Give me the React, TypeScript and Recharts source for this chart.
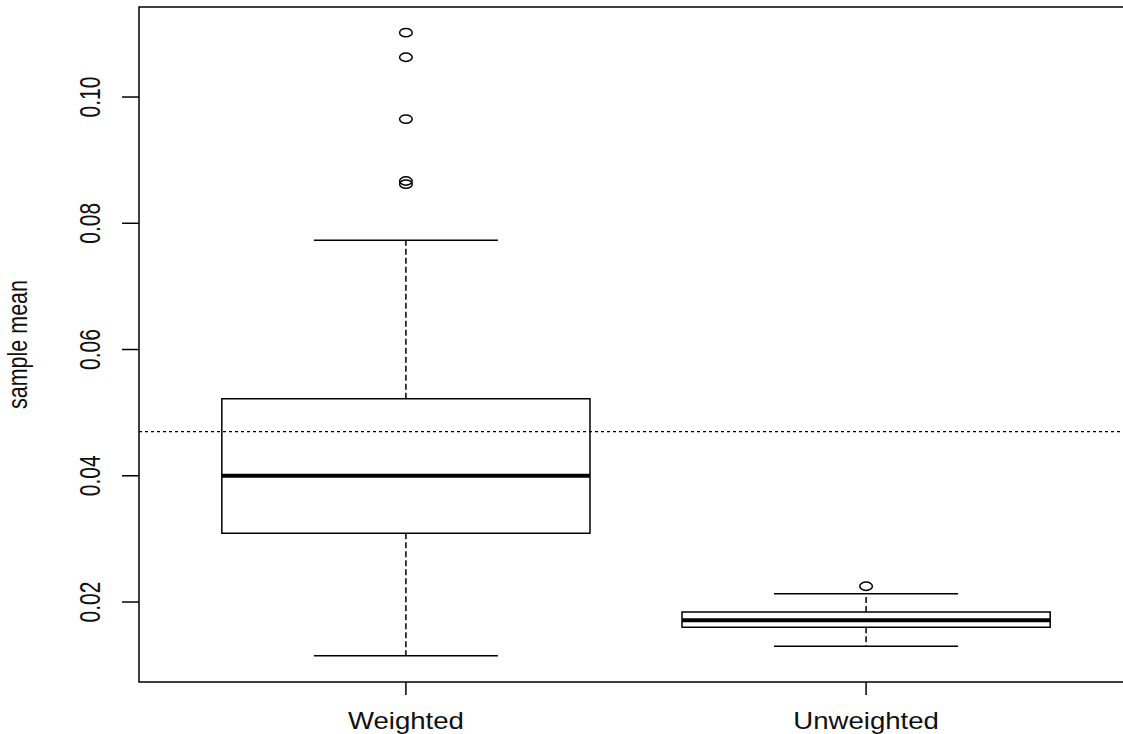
import {
  ComposedChart,
  XAxis,
  YAxis,
  Scatter,
  ReferenceArea,
  ReferenceLine,
  Label,
} from "recharts";

// Boxplot summaries
const categories = ["Weighted", "Unweighted"];
const lowerWhisker = [0.0115, 0.013];
const q1 = [0.0309, 0.016];
const median = [0.04, 0.0171];
const q3 = [0.0522, 0.0184];
const upperWhisker = [0.0773, 0.0213];
const outliers = [
  [0.1102, 0.1063, 0.0965, 0.0867, 0.0862],
  [0.0225],
];
const referenceMean = 0.047;
const yTicks = [0.02, 0.04, 0.06, 0.08, 0.1];
const yDomain = [0.00733, 0.11426];

const FONT = '"Liberation Sans", Arial, sans-serif';
const INK = "#000";
const BOX_HALF = 0.4;
const CAP_HALF = 0.2;

const outlierPoints = outliers.flatMap((vals, i) =>
  vals.map((v) => ({ x: i + 1, y: v }))
);

function YTick(props: any) {
  const { x, y, payload } = props;
  return (
    <g transform={`translate(${x},${y}) scale(1.4,1)`}>
      <text
        transform="rotate(-90)"
        textAnchor="middle"
        fontSize={21}
        fontFamily={FONT}
        fill="#111"
      >
        {payload.value.toFixed(2)}
      </text>
    </g>
  );
}

function XTick(props: any) {
  const { x, y, payload } = props;
  return (
    <g transform={`translate(${x},${y + 34}) scale(1.2,1)`}>
      <text textAnchor="middle" fontSize={23} fontFamily={FONT} fill="#111">
        {categories[payload.value - 1]}
      </text>
    </g>
  );
}

function YLabel(props: any) {
  const vb = props.viewBox;
  const cy = vb.y + vb.height / 2;
  return (
    <g transform={`translate(27,${cy}) scale(1.3,1)`}>
      <text
        transform="rotate(-90)"
        textAnchor="middle"
        fontSize={21.5}
        fontFamily={FONT}
        fill="#111"
      >
        sample mean
      </text>
    </g>
  );
}

function Outlier(props: any) {
  return (
    <ellipse
      cx={props.cx}
      cy={props.cy}
      rx={6.3}
      ry={4.2}
      fill="none"
      stroke={INK}
      strokeWidth={1.5}
    />
  );
}

export default function App() {
  return (
    <div
      style={{
        position: "fixed",
        left: 0,
        top: 0,
        width: 1123,
        height: 734,
        overflow: "hidden",
        background: "#fff",
      }}
    >
      <ComposedChart
        width={1140}
        height={734}
        margin={{ top: 7, right: 7, bottom: 0, left: 0 }}
      >
        <XAxis
          type="number"
          dataKey="x"
          domain={[0.42, 2.58]}
          ticks={[1, 2]}
          height={52}
          axisLine={false}
          tickLine={{ stroke: INK, strokeWidth: 1.5 }}
          tickSize={13}
          tickMargin={0}
          tick={<XTick />}
          allowDataOverflow
        />
        <YAxis
          type="number"
          dataKey="y"
          domain={yDomain}
          ticks={yTicks}
          width={139}
          axisLine={false}
          tickLine={{ stroke: INK, strokeWidth: 1.5 }}
          tickSize={17}
          tickMargin={22}
          tick={<YTick />}
          allowDataOverflow
        >
          <Label content={<YLabel />} />
        </YAxis>

        {/* plot frame */}
        <ReferenceArea
          x1={0.42}
          x2={2.58}
          y1={yDomain[0]}
          y2={yDomain[1]}
          fill="none"
          stroke={INK}
          strokeWidth={1.5}
          ifOverflow="extendDomain"
        />

        {categories.map((c, i) => {
          const cx = i + 1;
          return [
            <ReferenceArea
              key={c + "box"}
              x1={cx - BOX_HALF}
              x2={cx + BOX_HALF}
              y1={q1[i]}
              y2={q3[i]}
              fill="none"
              stroke={INK}
              strokeWidth={1.5}
            />,
            <ReferenceLine
              key={c + "upw"}
              segment={[
                { x: cx, y: q3[i] },
                { x: cx, y: upperWhisker[i] },
              ]}
              stroke={INK}
              strokeWidth={1.5}
              strokeDasharray="6 3"
            />,
            <ReferenceLine
              key={c + "low"}
              segment={[
                { x: cx, y: q1[i] },
                { x: cx, y: lowerWhisker[i] },
              ]}
              stroke={INK}
              strokeWidth={1.5}
              strokeDasharray="6 3"
            />,
            <ReferenceLine
              key={c + "upc"}
              segment={[
                { x: cx - CAP_HALF, y: upperWhisker[i] },
                { x: cx + CAP_HALF, y: upperWhisker[i] },
              ]}
              stroke={INK}
              strokeWidth={1.5}
            />,
            <ReferenceLine
              key={c + "loc"}
              segment={[
                { x: cx - CAP_HALF, y: lowerWhisker[i] },
                { x: cx + CAP_HALF, y: lowerWhisker[i] },
              ]}
              stroke={INK}
              strokeWidth={1.5}
            />,
            <ReferenceLine
              key={c + "med"}
              segment={[
                { x: cx - BOX_HALF, y: median[i] },
                { x: cx + BOX_HALF, y: median[i] },
              ]}
              stroke={INK}
              strokeWidth={4}
            />,
          ];
        })}

        <ReferenceLine
          y={referenceMean}
          stroke={INK}
          strokeWidth={1.3}
          strokeDasharray="3 3"
        />

        <Scatter
          data={outlierPoints}
          dataKey="y"
          shape={<Outlier />}
          isAnimationActive={false}
        />
      </ComposedChart>
    </div>
  );
}
